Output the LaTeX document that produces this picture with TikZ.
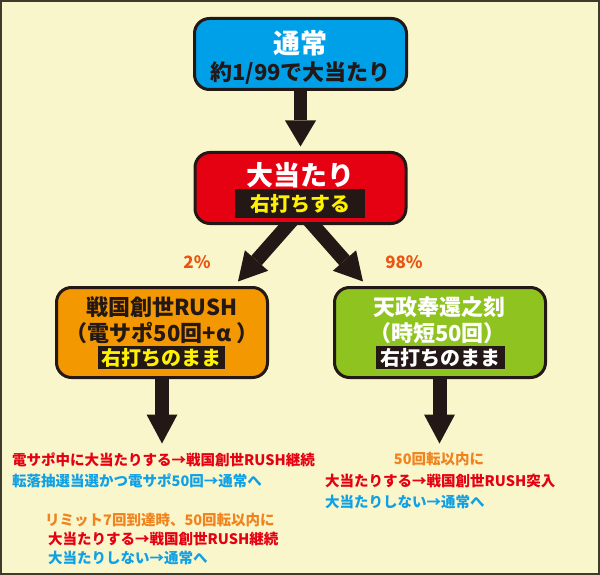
\documentclass[tikz,border=0pt]{standalone}
\usepackage{fontspec}
\setmainfont{Noto Sans CJK JP}
\usetikzlibrary{arrows.meta,calc}
\pgfdeclarelayer{back}
\pgfdeclarelayer{arrowlayer}
\pgfsetlayers{back,arrowlayer,main}
\definecolor{bgc}{HTML}{FAF6CB}
\definecolor{framec}{HTML}{3E3A2C}
\definecolor{inkc}{HTML}{231815}
\definecolor{boxblue}{HTML}{00A0E9}
\definecolor{boxred}{HTML}{E50012}
\definecolor{boxorange}{HTML}{F39800}
\definecolor{boxgreen}{HTML}{8FC31F}
\definecolor{yel}{HTML}{FFF100}
\definecolor{pctc}{HTML}{E95513}
\definecolor{orgtxt}{HTML}{F0831E}
\definecolor{redtxt}{HTML}{E50012}
\definecolor{bluetxt}{HTML}{0FA0E6}
\newcommand\fsz[1]{\fontsize{#1pt}{#1pt}\selectfont}
\tikzset{
  box/.style={draw=inkc, line width=3pt, rounded corners=15pt, inner sep=0pt},
  lab/.style={fill=inkc, inner sep=0pt},
  txt/.style={inner sep=0pt, font=\bfseries},
  barrow/.style={draw=inkc, line width=14pt, -{Triangle[width=31pt,length=28pt,line width=0pt]}},
}
\begin{document}
\begin{tikzpicture}[x=1pt,y=-1pt]
\useasboundingbox (0,0) rectangle (600,575);
\begin{pgfonlayer}{back}
\fill[bgc] (0,0) rectangle (600,575);
\draw[framec, line width=2pt] (1,1) rectangle (599,574);
\end{pgfonlayer}

% boxes
\node[box, fill=boxblue, minimum width=212pt, minimum height=71pt] (top) at (300.5,54) {};
\node[box, fill=boxred, minimum width=211pt, minimum height=71pt] (hit) at (300.5,188) {};
\node[box, fill=boxorange, minimum width=211pt, minimum height=90pt] (rush) at (162,332.5) {};
\node[box, fill=boxgreen, minimum width=211pt, minimum height=90pt] (jitan) at (440,332.5) {};

% arrows (behind the boxes)
\coordinate (a1s) at ($(top.south)+(0,-6)$);
\coordinate (a1e) at ($(hit.north)+(0,-4.5)$);
\coordinate (a2s) at ($(hit.south)+(-2.5,-11.5)$);
\coordinate (a2e) at ($(rush.north)+(76,-4.5)$);
\coordinate (a3s) at ($(hit.south)+(2.5,-11.5)$);
\coordinate (a3e) at ($(jitan.north)+(-77,-4.5)$);
\coordinate (a4s) at ($(rush.south)+(0,-6)$);
\coordinate (a4e) at ($(rush.south)+(0,64.5)$);
\coordinate (a5s) at ($(jitan.south)+(-0.5,-6)$);
\coordinate (a5e) at ($(jitan.south)+(-0.5,64.5)$);
\begin{pgfonlayer}{arrowlayer}
\draw[barrow, line width=13pt, -{Triangle[width=31pt,length=26pt,line width=0pt]}] (a1s) -- (a1e);
\draw[barrow] (a2s) -- (a2e);
\draw[barrow] (a3s) -- (a3e);
\draw[barrow, -{Triangle[width=31pt,length=29pt,line width=0pt]}] (a4s) -- (a4e);
\draw[barrow, -{Triangle[width=31pt,length=29pt,line width=0pt]}] (a5s) -- (a5e);
\end{pgfonlayer}

% texts in boxes
\node[txt, text=white] (t1) at (300.5,43) {\fsz{27}通常};
\node[txt, text=inkc] (t2) at (300.5,73) {\fsz{22}約1/99で大当たり};

\node[txt, text=white] (h1) at (300.5,175) {\fsz{27}大当たり};
\node[lab, minimum width=130pt, minimum height=29pt] (h2) at (300,203.5) {};
\node[txt, text=yel] (h2t) at (h2) {\fsz{20}右打ちする};

\node[txt, text=inkc] (r1) at (162,307) {\fsz{22}戦国創世RUSH};
\node[txt, text=inkc] (r2) at (162,333) {\fsz{22}（電サポ50回+α ）};
\node[lab, minimum width=127pt, minimum height=23pt] (r3) at (161.5,357.5) {};
\node[txt, text=yel] (r3t) at (r3) {\fsz{20}右打ちのまま};

\node[txt, text=white] (j1) at (439,307) {\fsz{22}天政奉還之刻};
\node[txt, text=white] (j2) at (437.5,333) {\fsz{22}（時短50回）};
\node[lab, minimum width=129pt, minimum height=23pt] (j3) at (440.5,357.5) {};
\node[txt, text=white] (j3t) at (j3) {\fsz{20}右打ちのまま};

% percentages
\node[txt, text=pctc] (p1) at (197,262) {\fsz{17}2\%};
\node[txt, text=pctc] (p2) at (404,262) {\fsz{17}98\%};

% bottom left texts
\node[txt, text=redtxt, anchor=west] (b1) at (12,460) {\fsz{14.5}電サポ中に大当たりする→戦国創世RUSH継続};
\node[txt, text=bluetxt, anchor=west] (b2) at (12,481) {\fsz{14.5}転落抽選当選かつ電サポ50回→通常へ};
\node[txt, text=orgtxt, anchor=west] (b3) at (45,520) {\fsz{14.5}リミット7回到達時、50回転以内に};
\node[txt, text=redtxt, anchor=west] (b4) at (48,539) {\fsz{14.5}大当たりする→戦国創世RUSH継続};
\node[txt, text=bluetxt, anchor=west] (b5) at (48,558) {\fsz{14.5}大当たりしない→通常へ};

% bottom right texts
\node[txt, text=orgtxt] (c1) at (439,459) {\fsz{14.5}50回転以内に};
\node[txt, text=redtxt, anchor=west] (c2) at (325,481) {\fsz{14.5}大当たりする→戦国創世RUSH突入};
\node[txt, text=bluetxt, anchor=west] (c3) at (325,502) {\fsz{14.5}大当たりしない→通常へ};
\end{tikzpicture}
\end{document}
